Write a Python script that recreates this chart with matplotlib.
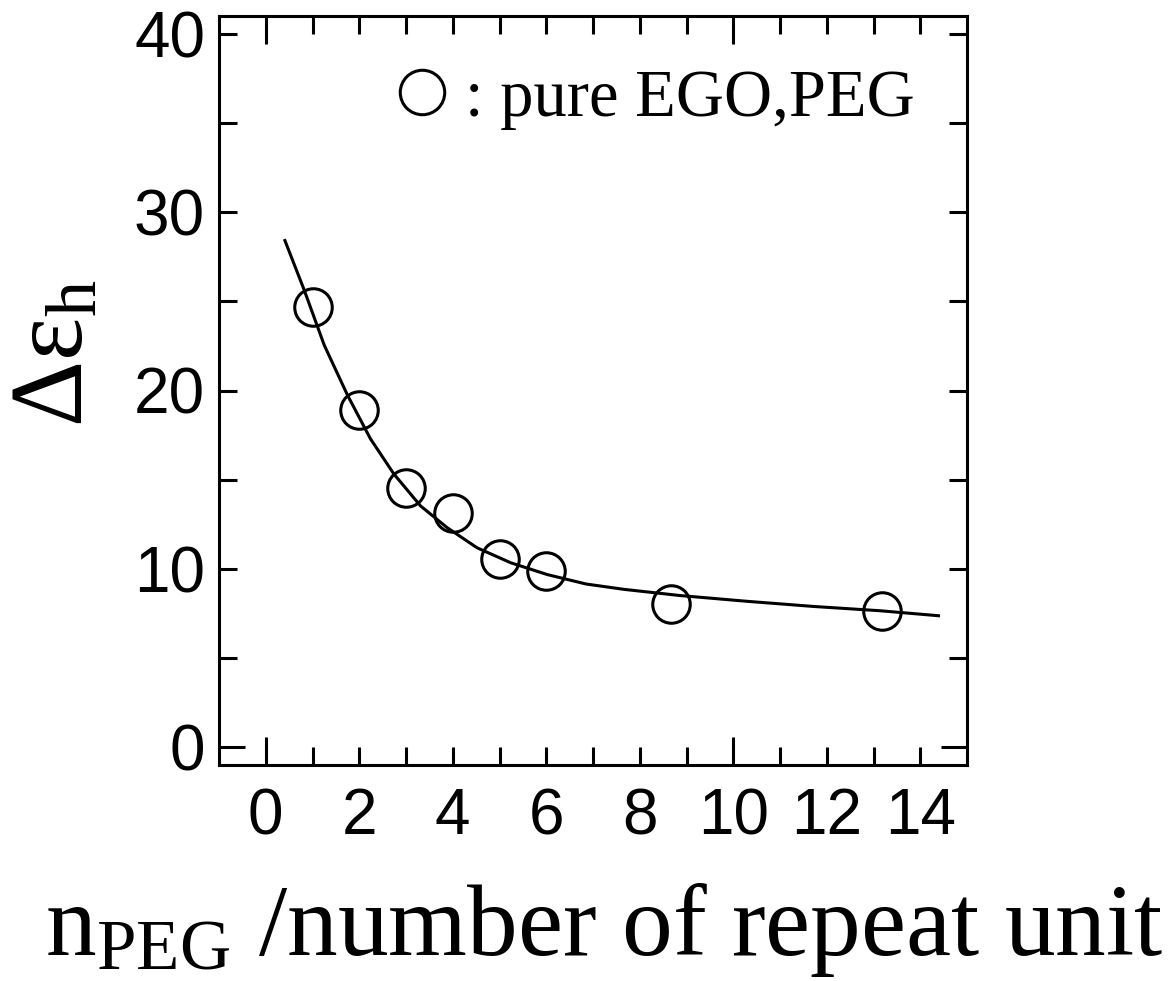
import matplotlib
matplotlib.use("Agg")
import matplotlib.pyplot as plt
from matplotlib.lines import Line2D

# measured points
n_peg = [1, 2, 3, 4, 5, 6, 8.67, 13.18]
d_eps = [24.71, 18.88, 14.51, 13.12, 10.56, 9.86, 8.03, 7.65]

# fitted curve
fit_x = [0.41, 0.82, 1.25, 1.75, 2.24, 2.74, 3.31, 3.88, 4.52, 5.24,
         6.02, 6.85, 7.66, 8.87, 10.29, 11.72, 13.14, 14.39]
fit_y = [28.41, 25.65, 22.55, 19.73, 17.29, 15.32, 13.53, 12.31, 11.18, 10.34,
         9.68, 9.15, 8.85, 8.50, 8.18, 7.89, 7.65, 7.37]

xticks = [0, 2, 4, 6, 8, 10, 12, 14]
xminor = [1, 3, 5, 7, 9, 11, 13]
yticks = [0, 10, 20, 30, 40]
yminor = [5, 15, 25, 35]

plt.rcParams['mathtext.fontset'] = 'custom'
plt.rcParams['mathtext.rm'] = 'Liberation Serif'
plt.rcParams['mathtext.it'] = 'Liberation Serif:italic'

W, H = 1174, 981
fig = plt.figure(figsize=(W / 100, H / 100), dpi=100)
ax = fig.add_axes([219 / W, 1 - 765 / H, (967 - 219) / W, (765 - 16) / H])

ax.plot(fit_x, fit_y, color='k', lw=2.2)
ax.plot(n_peg, d_eps, ls='none', marker='o', ms=27, mfc='none', mec='k', mew=2.2)

ax.set_xlim(-1, 15)
ax.set_ylim(-1, 41)
ax.set_xticks(xticks)
ax.set_xticks(xminor, minor=True)
ax.set_yticks(yticks)
ax.set_yticks(yminor, minor=True)
for sp in ax.spines.values():
    sp.set_linewidth(2.2)
ax.tick_params(which='both', direction='in', top=True, right=True,
               width=2.2, length=13)
ax.tick_params(axis='x', pad=16)
ax.tick_params(axis='y', pad=10)
for lab in ax.get_xticklabels() + ax.get_yticklabels():
    lab.set_fontfamily('Liberation Sans')
    lab.set_fontsize(46)

# longer ticks at x = 0, 10 and y = 0
for i in (0, 5):
    t = ax.xaxis.get_major_ticks()[i]
    t.tick1line.set_markersize(20)
    t.tick2line.set_markersize(20)
t = ax.yaxis.get_major_ticks()[0]
t.tick1line.set_markersize(19)
t.tick2line.set_markersize(19)

handle = Line2D([], [], ls='none', marker='o', ms=32, mfc='none', mec='k', mew=2.2)
ax.legend([handle], [': pure EGO,PEG'], loc='center right', frameon=False,
          prop={'family': 'Liberation Serif', 'size': 48},
          handletextpad=0.3, handlelength=0.7, borderpad=0, borderaxespad=0,
          bbox_to_anchor=(0.93, 0.889))

fig.text(604 / W, 1 - 955 / H, r'$\mathrm{n_{PEG}}$ /number of repeat unit',
         family='Liberation Serif', fontsize=73, ha='center', va='baseline')
fig.text(105 / W, 1 - 353 / H, r'$\mathrm{\Delta\varepsilon_{h}}$',
         family='Liberation Serif', fontsize=74, rotation=90,
         ha='right', va='center')

fig.savefig('out.png', dpi=100)
